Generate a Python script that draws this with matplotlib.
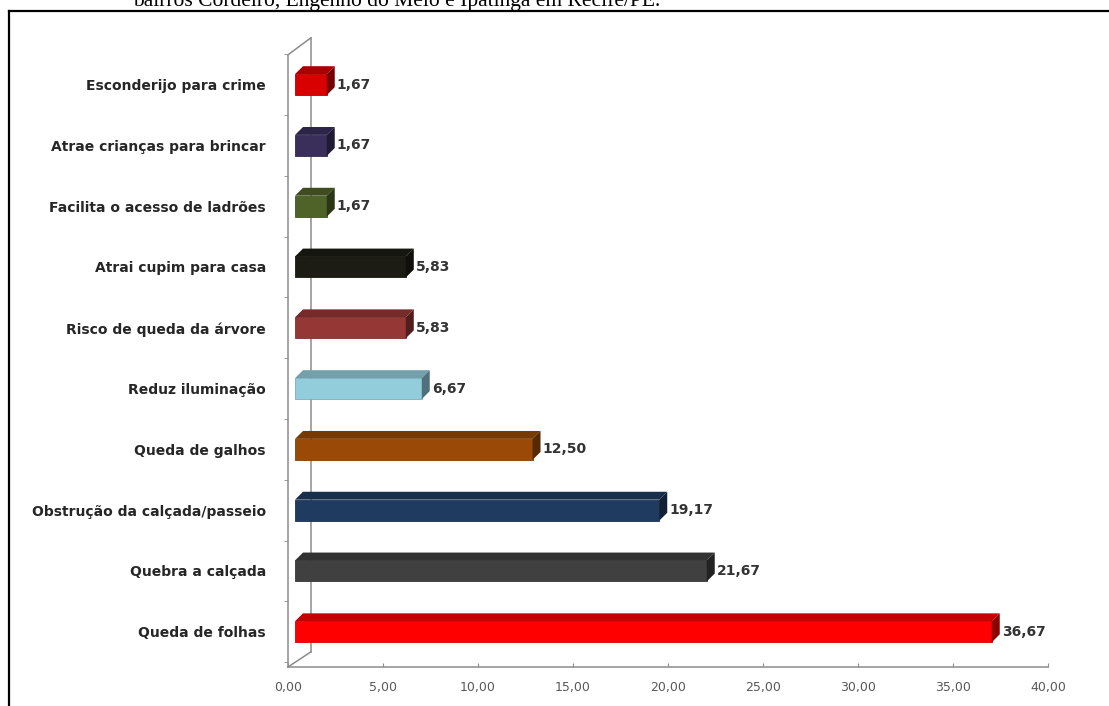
import matplotlib.pyplot as plt
from matplotlib.patches import Polygon
from matplotlib.lines import Line2D
from matplotlib.colors import to_rgb

plt.rcParams["font.family"] = "DejaVu Sans"

# Motivos citados (%), de baixo para cima
categorias = ["Queda de folhas", "Quebra a calçada", "Obstrução da calçada/passeio",
              "Queda de galhos", "Reduz iluminação", "Risco de queda da árvore",
              "Atrai cupim para casa", "Facilita o acesso de ladrões",
              "Atrae crianças para brincar", "Esconderijo para crime"]
valores = [36.67, 21.67, 19.17, 12.50, 6.67, 5.83, 5.83, 1.67, 1.67, 1.67]
cores = ["#FF0000", "#404040", "#1F3B60", "#9A4A06", "#92CDDC",
         "#953735", "#1C1C14", "#4F6228", "#3A2F5B", "#D80000"]
ticks_x = [0, 5, 10, 15, 20, 25, 30, 35, 40]


def shade(c, f):
    r, g, b = to_rgb(c)
    return (r * f, g * f, b * f)


fig = plt.figure(figsize=(11.09, 7.06), dpi=100)
ax = fig.add_axes([288 / 1109, 39 / 706, 760 / 1109, 628 / 706])
ax.set_xlim(0, 40)
ax.set_ylim(-0.58, 9.75)

# 3D look: offsets of the depth faces and where the bars sit inside the floor
x0 = 0.37
dx, dy = 0.42, 0.13
h = 0.345

for i, (v, c) in enumerate(zip(valores, cores)):
    ax.barh(i, v, left=x0, height=h, color=c, edgecolor=shade(c, 0.85),
            linewidth=0.6, zorder=3)
    y1 = i + h / 2
    y0 = i - h / 2
    top = Polygon([(x0, y1), (x0 + dx, y1 + dy), (x0 + v + dx, y1 + dy), (x0 + v, y1)],
                  closed=True, facecolor=shade(c, 0.78), edgecolor="none", zorder=3)
    side = Polygon([(x0 + v, y0), (x0 + v, y1), (x0 + v + dx, y1 + dy), (x0 + v + dx, y0 + dy)],
                   closed=True, facecolor=shade(c, 0.55), edgecolor="none", zorder=3)
    ax.add_patch(top)
    ax.add_patch(side)
    ax.text(x0 + v + dx + 0.1, i, f"{v:.2f}".replace(".", ","), va="center", ha="left",
            fontsize=10, fontweight="bold", color="#333333", zorder=4)

# walls of the 3D plot area
wall = "#8C8C8C"
bx = 1.21
ax.plot([0, 0], [-0.58, 9.49], color=wall, lw=1.1, clip_on=False, zorder=2)
ax.plot([bx, bx], [-0.33, 9.77], color=wall, lw=1.1, clip_on=False, zorder=1)
ax.plot([0, bx], [9.49, 9.77], color=wall, lw=1.1, clip_on=False, zorder=1)
ax.plot([0, bx], [-0.58, -0.33], color=wall, lw=1.1, clip_on=False, zorder=1)

for s in ["top", "right", "left"]:
    ax.spines[s].set_visible(False)
ax.spines["bottom"].set_color(wall)
ax.spines["bottom"].set_linewidth(1.1)

ax.set_xticks(ticks_x)
ax.set_xticklabels([f"{t:.2f}".replace(".", ",") for t in ticks_x], fontsize=9,
                   color="#595959")
ax.tick_params(axis="x", direction="in", length=3, color=wall, pad=10)

ax.set_yticks(range(len(categorias)))
ax.set_yticklabels(categorias, fontsize=10, fontweight="bold", color="#262626")
ax.tick_params(axis="y", length=0, pad=16)
ax.set_yticks([i + 0.5 for i in range(-1, len(categorias))], minor=True)
ax.tick_params(axis="y", which="minor", length=3, color=wall, direction="out")

# document frame and caption line above it
fig.add_artist(Line2D([9 / 1109, 1], [1 - 11 / 706, 1 - 11 / 706], color="black", lw=1.6))
fig.add_artist(Line2D([9 / 1109, 9 / 1109], [0, 1 - 11 / 706], color="black", lw=1.6))
fig.text(133 / 1109, 1 - 6 / 706, "bairros Cordeiro, Engenho do Meio e Ipatinga em Recife/PE.",
         family="Liberation Serif", fontsize=15.5, va="baseline", ha="left")

fig.savefig("out.png", dpi=100)
